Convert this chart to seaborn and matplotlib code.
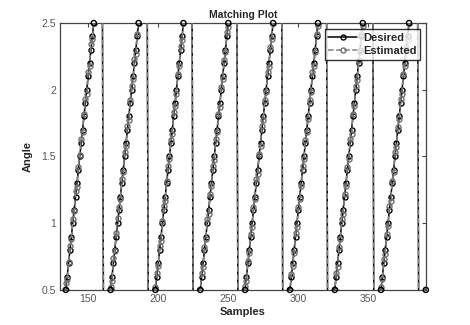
# matching plot: desired vs estimated angle (sawtooth)
import numpy as np
import pandas as pd
import matplotlib
matplotlib.use("Agg")
import matplotlib.pyplot as plt
import seaborn as sns

# -------------------------------------------------------------------
# data
# -------------------------------------------------------------------
samples = np.arange(130, 392)

desired = [
    0.1, 0.2, 0.3, 0.4, 0.5, 0.6, 0.7, 0.8, 0.9, 1.0, 1.1, 1.2, 1.3, 1.4, 1.5, 1.6,
    1.7, 1.8, 1.9, 2.0, 2.1, 2.2, 2.3, 2.4, 2.5, 2.6, 2.7, 2.8, 2.9, 3.0, 3.1,
    0.0, 0.1, 0.2, 0.3, 0.4, 0.5, 0.6, 0.7, 0.8, 0.9, 1.0, 1.1, 1.2, 1.3, 1.4, 1.5,
    1.6, 1.7, 1.8, 1.9, 2.0, 2.1, 2.2, 2.3, 2.4, 2.5, 2.6, 2.7, 2.8, 2.9, 3.0, 3.1,
    0.0, 0.1, 0.2, 0.3, 0.4, 0.5, 0.6, 0.7, 0.8, 0.9, 1.0, 1.1, 1.2, 1.3, 1.4, 1.5,
    1.6, 1.7, 1.8, 1.9, 2.0, 2.1, 2.2, 2.3, 2.4, 2.5, 2.6, 2.7, 2.8, 2.9, 3.0, 3.1,
    0.0, 0.1, 0.2, 0.3, 0.4, 0.5, 0.6, 0.7, 0.8, 0.9, 1.0, 1.1, 1.2, 1.3, 1.4, 1.5,
    1.6, 1.7, 1.8, 1.9, 2.0, 2.1, 2.2, 2.3, 2.4, 2.5, 2.6, 2.7, 2.8, 2.9, 3.0, 3.1,
    0.0, 0.1, 0.2, 0.3, 0.4, 0.5, 0.6, 0.7, 0.8, 0.9, 1.0, 1.1, 1.2, 1.3, 1.4, 1.5,
    1.6, 1.7, 1.8, 1.9, 2.0, 2.1, 2.2, 2.3, 2.4, 2.5, 2.6, 2.7, 2.8, 2.9, 3.0, 3.1,
    0.0, 0.1, 0.2, 0.3, 0.4, 0.5, 0.6, 0.7, 0.8, 0.9, 1.0, 1.1, 1.2, 1.3, 1.4, 1.5,
    1.6, 1.7, 1.8, 1.9, 2.0, 2.1, 2.2, 2.3, 2.4, 2.5, 2.6, 2.7, 2.8, 2.9, 3.0, 3.1,
    0.0, 0.1, 0.2, 0.3, 0.4, 0.5, 0.6, 0.7, 0.8, 0.9, 1.0, 1.1, 1.2, 1.3, 1.4, 1.5,
    1.6, 1.7, 1.8, 1.9, 2.0, 2.1, 2.2, 2.3, 2.4, 2.5, 2.6, 2.7, 2.8, 2.9, 3.0, 3.1, 3.2,
    0.0, 0.1, 0.2, 0.3, 0.4, 0.5, 0.6, 0.7, 0.8, 0.9, 1.0, 1.1, 1.2, 1.3, 1.4, 1.5,
    1.6, 1.7, 1.8, 1.9, 2.0, 2.1, 2.2, 2.3, 2.4, 2.5, 2.6, 2.7, 2.8, 2.9, 3.0, 3.1,
    0.0, 0.1, 0.2, 0.3, 0.4, 0.5,
]

estimated = [
    0.12, 0.18, 0.33, 0.41, 0.55, 0.58, 0.71, 0.83, 0.88, 1.03, 1.09, 1.24, 1.27, 1.42, 1.51, 1.63,
    1.68, 1.82, 1.93, 1.97, 2.13, 2.18, 2.34, 2.38, 2.52, 2.61, 2.68, 2.83, 2.89, 3.04, 3.08,
    0.03, 0.08, 0.22, 0.28, 0.43, 0.52, 0.57, 0.74, 0.79, 0.93, 1.04, 1.12, 1.18, 1.33, 1.38, 1.53,
    1.58, 1.73, 1.77, 1.92, 2.03, 2.08, 2.23, 2.27, 2.42, 2.53, 2.57, 2.72, 2.78, 2.93, 3.02, 3.08,
    -0.02, 0.12, 0.17, 0.32, 0.37, 0.52, 0.63, 0.68, 0.83, 0.87, 1.02, 1.13, 1.17, 1.32, 1.43, 1.48,
    1.62, 1.67, 1.83, 1.88, 1.97, 2.12, 2.18, 2.33, 2.37, 2.52, 2.57, 2.73, 2.77, 2.92, 2.98, 3.12,
    0.04, 0.07, 0.23, 0.27, 0.42, 0.48, 0.63, 0.67, 0.82, 0.88, 1.03, 1.07, 1.22, 1.28, 1.43, 1.47,
    1.63, 1.68, 1.82, 1.87, 2.02, 2.08, 2.22, 2.28, 2.43, 2.47, 2.62, 2.68, 2.82, 2.87, 3.03, 3.07,
    0.02, 0.13, 0.18, 0.33, 0.38, 0.53, 0.57, 0.72, 0.78, 0.92, 0.97, 1.12, 1.18, 1.33, 1.37, 1.52,
    1.58, 1.73, 1.77, 1.92, 1.98, 2.13, 2.17, 2.32, 2.38, 2.53, 2.57, 2.72, 2.78, 2.93, 2.97, 3.12,
    -0.03, 0.12, 0.18, 0.28, 0.43, 0.47, 0.62, 0.68, 0.78, 0.93, 0.97, 1.12, 1.18, 1.28, 1.43, 1.48,
    1.62, 1.68, 1.78, 1.92, 1.98, 2.13, 2.18, 2.28, 2.42, 2.48, 2.62, 2.68, 2.78, 2.93, 2.98, 3.12,
    0.03, 0.07, 0.22, 0.28, 0.42, 0.47, 0.63, 0.67, 0.82, 0.88, 1.03, 1.07, 1.22, 1.28, 1.42, 1.48,
    1.63, 1.67, 1.82, 1.88, 2.03, 2.07, 2.22, 2.28, 2.42, 2.48, 2.63, 2.67, 2.82, 2.88, 3.02, 3.08, 3.22,
    -0.02, 0.13, 0.17, 0.32, 0.38, 0.52, 0.58, 0.73, 0.77, 0.92, 0.98, 1.13, 1.17, 1.32, 1.38, 1.53,
    1.57, 1.72, 1.78, 1.93, 1.97, 2.12, 2.18, 2.33, 2.37, 2.52, 2.58, 2.72, 2.78, 2.93, 2.97, 3.12,
    0.02, 0.08, 0.22, 0.28, 0.42, 0.50,
]

x_ticks = [150, 200, 250, 300, 350]
y_ticks = [0.5, 1, 1.5, 2, 2.5]
y_ticklabels = ["0.5", "1", "1.5", "2", "2.5"]

# -------------------------------------------------------------------
# plot
# -------------------------------------------------------------------
sns.set_style("white")
plt.rcParams['font.family'] = ['Liberation Sans', 'DejaVu Sans']

df = pd.DataFrame({"Samples": samples, "Desired": desired, "Estimated": estimated})

fig = plt.figure(figsize=(4.7, 3.25), dpi=100)
ax = fig.add_axes([0.128, 0.108, 0.778, 0.821])

sns.lineplot(data=df, x="Samples", y="Desired", ax=ax, estimator=None, sort=False,
             color="black", linewidth=1.1, marker="o", markersize=3.6,
             markerfacecolor="none", markeredgecolor="black", markeredgewidth=1.0,
             label="Desired", zorder=2)
sns.lineplot(data=df, x="Samples", y="Estimated", ax=ax, estimator=None, sort=False,
             color="#808080", linewidth=1.1, linestyle="--", dashes=(4, 2.5), marker="o",
             markersize=3.6, markerfacecolor="none", markeredgecolor="#707070",
             markeredgewidth=1.0, label="Estimated", zorder=3)

# markers sitting on the axis limits are not clipped (matlab style)
edge = df[(df["Desired"] == 0.5) | (df["Desired"] == 2.5)]
sns.scatterplot(data=edge, x="Samples", y="Desired", ax=ax, marker="o", s=14,
                facecolor="none", edgecolor="black", linewidth=1.0, clip_on=False,
                legend=False, zorder=4)

ax.set_xlim(130, 391)
ax.set_ylim(0.5, 2.5)
ax.set_xticks(x_ticks)
ax.set_yticks(y_ticks)
ax.set_yticklabels(y_ticklabels)
ax.tick_params(direction="in", length=3, width=0.8, top=True, right=True,
               labelsize=7.5, labelcolor="#555555", color="#444444", pad=3)
for sp in ax.spines.values():
    sp.set_visible(True)
    sp.set_color("#444444")
    sp.set_linewidth(0.9)

ax.set_title("Matching Plot", fontsize=7.5, fontweight="bold", pad=4)
ax.set_xlabel("Samples", fontsize=8, fontweight="bold", labelpad=2)
ax.set_ylabel("Angle", fontsize=8, fontweight="bold", labelpad=6)

leg = ax.legend(loc="upper right", fontsize=8, frameon=True, fancybox=False,
                borderaxespad=0.5, handlelength=2.6, borderpad=0.35,
                labelspacing=0.3, handletextpad=0.5)
leg.get_frame().set_edgecolor("black")
leg.get_frame().set_linewidth(1.0)
leg.set_zorder(10)
for t in leg.get_texts():
    t.set_fontweight("bold")

fig.savefig("out.png", dpi=100)
